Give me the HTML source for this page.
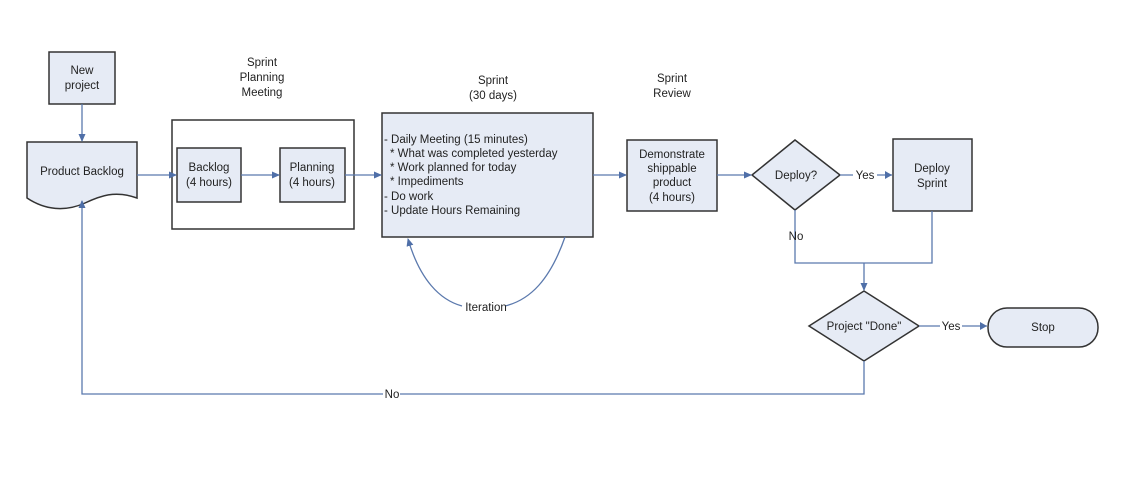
<!DOCTYPE html>
<html><head><meta charset="utf-8"><style>
body{margin:0;background:#fff}
svg text{font-family:"Liberation Sans",sans-serif;font-size:11.5px;fill:#222}
</style></head><body>
<svg width="1125" height="476" viewBox="0 0 1125 476" xmlns="http://www.w3.org/2000/svg">
<defs><marker id="a" markerWidth="8" markerHeight="8" refX="7" refY="4" orient="auto" markerUnits="userSpaceOnUse"><path d="M0,0.5 L8,4 L0,7.5 z" fill="#4f6fa8"/></marker></defs>
<g fill="#e6ebf5" stroke="#333" stroke-width="1.5">
<rect x="49" y="52" width="66" height="52"/>
<path d="M27,142 H137 V198 C115,190 100,196 85,203 C65,212 45,210 27,198 Z"/>
<rect x="172" y="120" width="182" height="109" fill="#fff"/>
<rect x="177" y="148" width="64" height="54"/>
<rect x="280" y="148" width="65" height="54"/>
<rect x="382" y="113" width="211" height="124"/>
<rect x="627" y="140" width="90" height="71"/>
<path d="M752,175 L795,140 L840,175 L795,210 Z"/>
<rect x="893" y="139" width="79" height="72"/>
<path d="M809,326 L864,291 L919,326 L864,361 Z"/>
<rect x="988" y="308" width="110" height="39" rx="19"/>
</g>
<g stroke="#5b79ad" stroke-width="1.3" fill="none">
<line x1="82" y1="104" x2="82" y2="141" marker-end="url(#a)"/>
<line x1="137" y1="175" x2="176" y2="175" marker-end="url(#a)"/>
<line x1="241" y1="175" x2="279" y2="175" marker-end="url(#a)"/>
<line x1="345" y1="175" x2="381" y2="175" marker-end="url(#a)"/>
<line x1="593" y1="175" x2="626" y2="175" marker-end="url(#a)"/>
<line x1="717" y1="175" x2="751" y2="175" marker-end="url(#a)"/>
<path d="M840,175 H853 M877,175 H892" />
<path d="M932,211 V263 H795 V210"/>
<line x1="864" y1="263" x2="864" y2="290" marker-end="url(#a)"/>
<path d="M919,326 H940 M962,326 H987"/>
<path d="M864,361 V394 H400 M383,394 H82 V201" marker-end="url(#a)"/>
<path d="M565,237 C550,280 530,300 505,306 M462,306 C440,300 420,280 408,239" marker-end="url(#a)"/>
</g>
<path d="M885,171 L892,175 L885,179Z M980,322 L987,326 L980,330Z" fill="#4f6fa8"/>
<g text-anchor="middle">
<text x="82" y="74">New</text><text x="82" y="89">project</text>
<text x="82" y="175">Product Backlog</text>
<text x="262" y="66">Sprint</text><text x="262" y="81">Planning</text><text x="262" y="96">Meeting</text>
<text x="209" y="171">Backlog</text><text x="209" y="186">(4 hours)</text>
<text x="312" y="171">Planning</text><text x="312" y="186">(4 hours)</text>
<text x="493" y="84">Sprint</text><text x="493" y="99">(30 days)</text>
<text x="672" y="82">Sprint</text><text x="672" y="97">Review</text>
<text x="672" y="158">Demonstrate</text><text x="672" y="172">shippable</text><text x="672" y="186">product</text><text x="672" y="201">(4 hours)</text>
<text x="796" y="179">Deploy?</text>
<text x="865" y="179">Yes</text>
<text x="932" y="172">Deploy</text><text x="932" y="187">Sprint</text>
<text x="796" y="240">No</text>
<text x="864" y="330">Project "Done"</text>
<text x="951" y="330">Yes</text>
<text x="1043" y="331">Stop</text>
<text x="486" y="311">Iteration</text>
<text x="392" y="398">No</text>
</g>
<g>
<text x="384" y="143">- Daily Meeting (15 minutes)</text>
<text x="390" y="157">* What was completed yesterday</text>
<text x="390" y="171">* Work planned for today</text>
<text x="390" y="185">* Impediments</text>
<text x="384" y="200">- Do work</text>
<text x="384" y="214">- Update Hours Remaining</text>
</g>
</svg>
</body></html>
